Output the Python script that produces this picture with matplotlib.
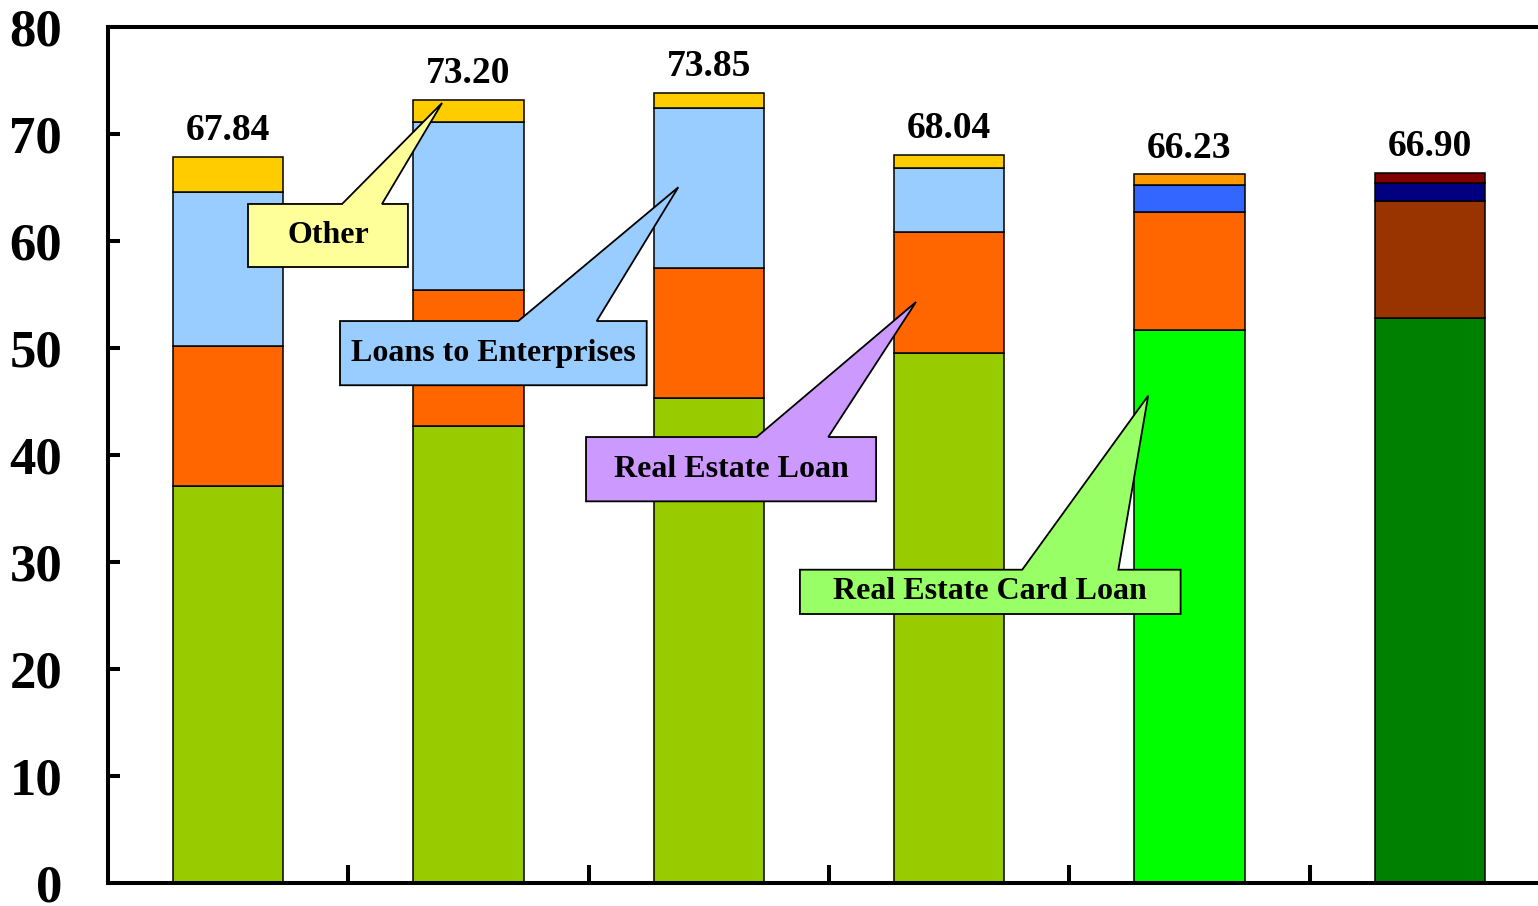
import matplotlib
matplotlib.use('Agg')
import matplotlib.pyplot as plt
from matplotlib.patches import Polygon
import numpy as np

plt.rcParams['font.family'] = ['Liberation Serif', 'DejaVu Serif']
plt.rcParams['font.weight'] = 'bold'

# ---- data ----
n_groups = 6
layer1 = [37.1, 42.7, 45.3, 49.5, 51.7, 52.8]
layer2 = [13.1, 12.75, 12.2, 11.3, 11.05, 10.9]
layer3 = [14.4, 15.7, 14.9, 6.0, 2.45, 1.7]
layer4 = [3.24, 2.05, 1.45, 1.24, 1.03, 0.95]
total_labels = ["67.84", "73.20", "73.85", "68.04", "66.23", "66.90"]
yticks = [0, 10, 20, 30, 40, 50, 60, 70, 80]

# colours per bar, per layer
colors1 = ['#99CC00'] * 4 + ['#00FF00', '#008000']
colors2 = ['#FF6600'] * 5 + ['#993300']
colors3 = ['#99CCFF'] * 4 + ['#3366FF', '#000080']
colors4 = ['#FFCC00'] * 4 + ['#FF9900', '#800000']

# callouts: text, box (x0, y0, x1, y1) data coords, wedge base x range, tip
callouts = [
    ("Other", (0.5825, 57.57, 1.248, 63.46), (0.974, 1.140), (1.390, 72.9), '#FFFF99'),
    ("Loans to Enterprises", (0.9653, 46.52, 2.2415, 52.52), (1.7073, 2.0335), (2.3729, 65.02), '#99CCFF'),
    ("Real Estate Loan", (1.989, 35.67, 3.196, 41.68), (2.699, 2.997), (3.362, 54.30), '#CC99FF'),
    ("Real Estate Card Loan", (2.879, 25.14, 4.463, 29.28), (3.804, 4.204), (4.328, 45.54), '#99FF66'),
]

W, H = 1538, 906
fig = plt.figure(figsize=(W / 100, H / 100), dpi=100)
ax = fig.add_axes([108 / W, 23 / H, 1442 / W, 856 / H])

x = np.arange(n_groups) + 0.5
width = 0.46
bottom = np.zeros(n_groups)
for vals, cols in [(layer1, colors1), (layer2, colors2), (layer3, colors3), (layer4, colors4)]:
    ax.bar(x, vals, width, bottom=bottom, color=cols, edgecolor='black', linewidth=1.1, zorder=2)
    bottom = bottom + np.array(vals)

for xi, top, lab in zip(x, bottom, total_labels):
    ax.annotate(lab, (xi, top), xytext=(0, 12), textcoords='offset points',
                ha='center', va='baseline', fontsize=27, fontweight='bold', zorder=5)

for text, (x0, y0, x1, y1), (bx0, bx1), (tx, ty), col in callouts:
    verts = [(x0, y0), (x1, y0), (x1, y1), (bx1, y1), (tx, ty), (bx0, y1), (x0, y1)]
    poly = Polygon(verts, closed=True, facecolor=col, edgecolor='black', linewidth=1.3, zorder=6,
                   joinstyle='miter')
    ax.add_patch(poly)
    ax.text((x0 + x1) / 2, (y0 + y1) / 2, text, ha='center', va='center', fontsize=23,
            fontweight='bold', zorder=7)

ax.set_xlim(0, n_groups)
ax.set_ylim(0, 80)
ax.set_yticks(yticks)
ax.set_yticklabels([str(v) for v in yticks], fontsize=38, fontweight='bold')
ax.set_xticks(np.arange(1, n_groups))
ax.set_xticklabels([])
ax.tick_params(axis='y', direction='in', length=8.6, width=2.9, pad=33)
ax.tick_params(axis='x', direction='in', length=13, width=2.9)
for s in ['left', 'bottom', 'top']:
    ax.spines[s].set_linewidth(2.9)
ax.spines['right'].set_visible(False)

fig.savefig('out.png', dpi=100)
